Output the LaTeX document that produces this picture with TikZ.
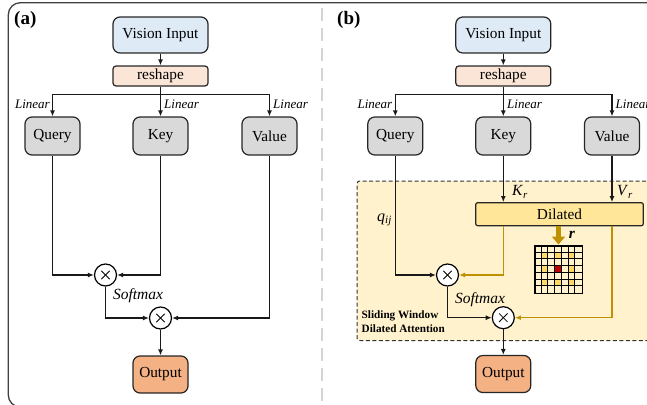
\documentclass[tikz,border=0pt]{standalone}
\usepackage{fontspec}
\setmainfont{Liberation Serif}
\usetikzlibrary{arrows.meta,calc}
\definecolor{vblue}{HTML}{DEEBF7}
\definecolor{rpeach}{HTML}{FBE5D6}
\definecolor{ggray}{HTML}{D9D9D9}
\definecolor{oorange}{HTML}{F4B183}
\definecolor{regy}{HTML}{FFF2CC}
\definecolor{dily}{HTML}{FFE699}
\definecolor{goldc}{HTML}{BF9000}
\definecolor{celly}{HTML}{FFD966}
\definecolor{cellr}{HTML}{C00000}
\definecolor{sepgray}{HTML}{D4D4D4}
\tikzset{
  box/.style={draw=black!85, line width=1.2pt, rounded corners=7pt, font=\fontsize{15.3}{18}\selectfont, inner sep=0pt},
  vbox/.style={box, fill=vblue, minimum width=95pt, minimum height=36pt},
  rbox/.style={box, fill=rpeach, rounded corners=3pt, minimum width=95pt, minimum height=20pt},
  gbox/.style={box, fill=ggray, minimum width=55pt, minimum height=38pt},
  obox/.style={box, fill=oorange, minimum width=55pt, minimum height=37pt},
  dbox/.style={box, fill=dily, rounded corners=2pt, minimum width=167.6pt, minimum height=23pt},
  mul/.style={circle, draw=black, line width=1.2pt, fill=white, minimum size=22pt, inner sep=0pt,
    path picture={
      \draw[line width=0.8pt] ([shift={(-4.2pt,-4.2pt)}]path picture bounding box.center) -- ([shift={(4.2pt,4.2pt)}]path picture bounding box.center);
      \draw[line width=0.8pt] ([shift={(-4.2pt,4.2pt)}]path picture bounding box.center) -- ([shift={(4.2pt,-4.2pt)}]path picture bounding box.center);}},
  conn/.style={line width=1.2pt, draw=black!90},
  arr/.style={conn, -{Latex[length=6pt,width=5pt]}},
  goldarr/.style={line width=1.2pt, draw=goldc, -{Latex[length=6pt,width=5pt]}},
  lin/.style={font=\fontsize{13}{15}\selectfont\itshape, inner sep=0pt},
  smx/.style={font=\fontsize{15.5}{18}\selectfont\itshape, inner sep=0pt},
  panel/.style={font=\fontsize{19}{22}\selectfont\bfseries, inner sep=0pt}
}
\begin{document}
\begin{tikzpicture}[x=1pt,y=-1pt]
\useasboundingbox (0,0) rectangle (647,404);
\clip (0,0) rectangle (647,404);
% frame and separator
\draw[line width=1.3pt, draw=black!75, rounded corners=12pt] (8.3,2.7) rectangle (700,407);
\draw[draw=sepgray, line width=1.7pt, dash pattern=on 13pt off 7pt] (321.7,8) -- (321.7,404);
\node[panel, anchor=west] (pa) at (14,20) {(a)};
\node[panel, anchor=west] (pb) at (337,20) {(b)};

% ---------- panel (a) ----------
\node[vbox] (vi1) at (160.5,35) {Vision Input};
\node[rbox] (rs1) at (160.5,76) {reshape};
\node[gbox] (q1) at (52.5,136) {Query};
\node[gbox] (k1) at (160.5,136) {Key};
\node[gbox] (v1) at (269.5,136) {Value};
\node[mul] (m1a) at (105.5,275) {};
\node[mul] (m2a) at (160.5,318) {};
\node[obox] (o1) at (160.5,374.5) {Output};
\coordinate (br1) at (160.5,94.3);
\draw[arr] (vi1) -- (rs1);
\draw[conn] (q1.north |- br1) -- (v1.north |- br1);
\draw[arr] (rs1) -- (k1);
\draw[arr] (q1.north |- br1) -- (q1.north);
\draw[arr] (v1.north |- br1) -- (v1.north);
\node[lin, anchor=east] (l1q) at (50,104) {Linear};
\node[lin, anchor=west] (l1k) at (164,104) {Linear};
\node[lin, anchor=west] (l1v) at (273,104) {Linear};
\draw[arr] (q1.south) |- (m1a.west);
\draw[arr] (k1.south) |- (m1a.east);
\draw[arr] (m1a.south) |- (m2a.west);
\draw[arr] (v1.south) |- (m2a.east);
\draw[arr] (m2a) -- (o1);
\node[smx] (s1) at (138,296) {Softmax};

% ---------- panel (b) ----------
\node[draw=black!80, dashed, dash pattern=on 4pt off 2.5pt, line width=1pt, fill=regy, minimum width=330pt, minimum height=159.3pt, anchor=north west, inner sep=0pt, rounded corners=2pt] (swda) at (356.7,180.7) {};
\node[font=\fontsize{11.2}{14}\selectfont\bfseries, align=left, anchor=north west, inner sep=0pt] (swl) at (361.5,311) {Sliding Window\\Dilated Attention};

\node[vbox] (vi2) at (503.3,35) {Vision Input};
\node[rbox] (rs2) at (503.3,76) {reshape};
\node[gbox] (q2) at (395.3,136) {Query};
\node[gbox] (k2) at (503.3,136) {Key};
\node[gbox] (v2) at (612,136) {Value};
\node[dbox] (dil) at (559.5,214.2) {Dilated};
\node[mul] (m1b) at (447.5,275) {};
\node[mul] (m2b) at (503.3,317.7) {};
\node[obox] (o2) at (503.3,374) {Output};
\coordinate (br2) at (503.3,94.3);
\draw[arr] (vi2) -- (rs2);
\draw[conn] (q2.north |- br2) -- (v2.north |- br2);
\draw[arr] (rs2) -- (k2);
\draw[arr] (q2.north |- br2) -- (q2.north);
\draw[arr] (v2.north |- br2) -- (v2.north);
\node[lin, anchor=east] (l2q) at (392.5,104) {Linear};
\node[lin, anchor=west] (l2k) at (507,104) {Linear};
\node[lin, anchor=west] (l2v) at (615.5,104) {Linear};
\draw[arr] (k2.south) -- (k2.south |- dil.north);
\draw[arr] (v2.south) -- (v2.south |- dil.north);
\node[font=\fontsize{15.5}{18}\selectfont, inner sep=0pt] (kr) at (520,192) {\textit{K}\textsubscript{\textit{r}}};
\node[font=\fontsize{15.5}{18}\selectfont, inner sep=0pt] (vr) at (625,192) {\textit{V}\textsubscript{\textit{r}}};
\node[font=\fontsize{16}{18}\selectfont, inner sep=0pt] (qij) at (384.5,220) {\textit{q}\textsubscript{\textit{ij}}};
\draw[arr] (q2.south) |- (m1b.west);
\draw[goldarr] (dil.south -| k2.south) |- (m1b.east);
\draw[arr] (m1b.south) |- (m2b.west);
\draw[goldarr] (dil.south -| v2.south) |- (m2b.east);
\draw[arr] (m2b) -- (o2);
\node[smx] (s2) at (480,299.5) {Softmax};

% dilated grid
\node[draw=black, line width=1pt, minimum size=47pt, inner sep=0pt] (grid) at (558.5,269.5) {};
\foreach \i/\j in {1/1,1/3,1/5,3/1,3/5,5/1,5/3,5/5}
  \fill[celly] ($(grid.north west)+(\i*6.714,\j*6.714)$) rectangle ++(6.714,6.714);
\fill[cellr] ($(grid.north west)+(3*6.714,3*6.714)$) rectangle ++(6.714,6.714);
\foreach \k in {1,...,6} {
  \draw[line width=1pt] ($(grid.north west)+(\k*6.714,0)$) -- ++(0,47);
  \draw[line width=1pt] ($(grid.north west)+(0,\k*6.714)$) -- ++(47,0);
}
\draw[line width=1pt] (grid.north west) rectangle (grid.south east);
\draw[draw=goldc, line width=5pt, -{Triangle[length=8pt,width=13pt]}] (dil.south -| grid.north) -- ([yshift=1pt]grid.north);
\node[font=\fontsize{15.5}{18}\selectfont\bfseries\itshape, inner sep=0pt] (rl) at (572,235) {r};
\end{tikzpicture}
\end{document}
